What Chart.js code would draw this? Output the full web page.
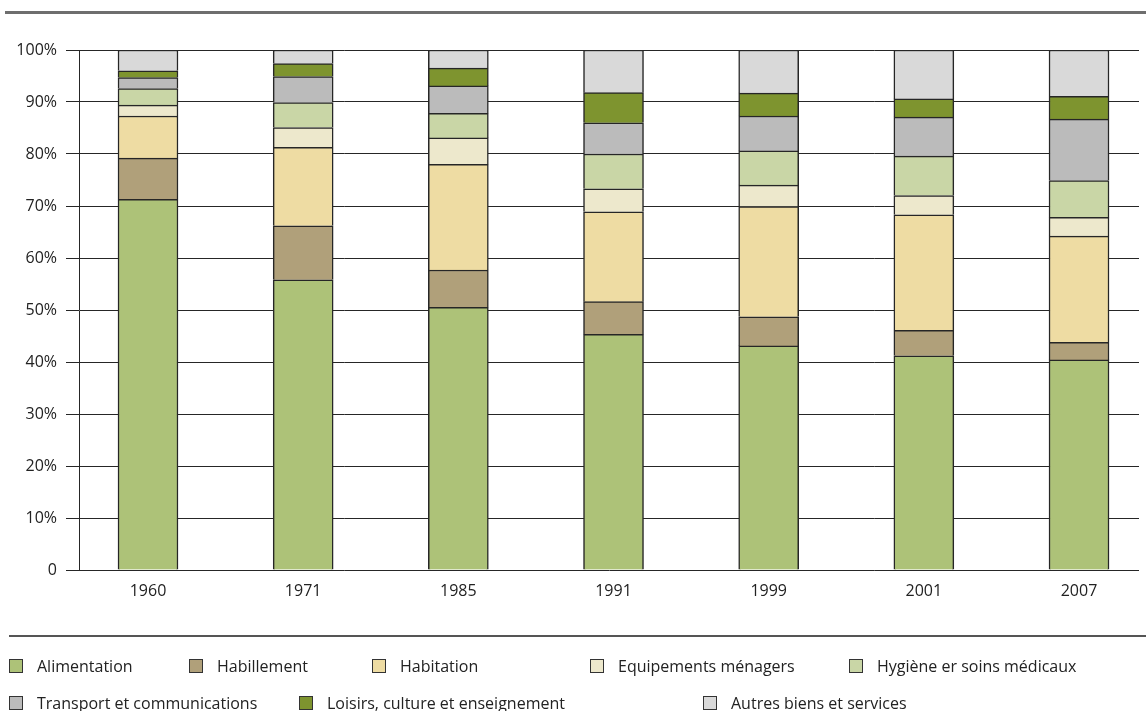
<!DOCTYPE html>
<html>
<head>
<meta charset="utf-8">
<script src="https://cdn.jsdelivr.net/npm/chart.js@4.4.1/dist/chart.umd.min.js"></script>
<style>
  body{margin:0;background:#fff;font-family:"Open Sans",sans-serif;color:#222;}
  #wrap{position:relative;width:1146px;height:711px;overflow:hidden;}
  #chart{position:absolute;left:0;top:0;}
  .rule{position:absolute;}
  .item{position:absolute;display:flex;align-items:center;font-size:16px;white-space:nowrap;}
  .item span.box{display:inline-block;width:12px;height:12px;border:1px solid #333;margin-right:14px;}
</style>
</head>
<body>
<div id="wrap">
  <div class="rule" style="left:5px;top:11px;width:1141px;height:3px;background:#6e6e6e;"></div>
  <canvas id="chart" width="1146" height="711"></canvas>
  <div class="rule" style="left:9px;top:635px;width:1137px;height:2px;background:#555;"></div>
  <div id="legend"></div>
</div>
<script>
const years = ["1960","1971","1985","1991","1999","2001","2007"];

const seriesNames = [
  "Alimentation",
  "Habillement",
  "Habitation",
  "Equipements ménagers",
  "Hygiène er soins médicaux",
  "Transport et communications",
  "Loisirs, culture et enseignement",
  "Autres biens et services"
];

const alimentation = [71.3, 55.8, 50.5, 45.3, 43.1, 41.2, 40.4];
const habillement  = [7.9, 10.4, 7.2, 6.3, 5.6, 4.9, 3.4];
const habitation   = [8.1, 15.1, 20.3, 17.3, 21.2, 22.2, 20.4];
const equipements  = [2.1, 3.8, 5.1, 4.4, 4.1, 3.7, 3.6];
const hygiene      = [3.2, 4.8, 4.7, 6.7, 6.6, 7.6, 7.1];
const transport    = [2.1, 5.0, 5.3, 6.0, 6.7, 7.5, 11.8];
const loisirs      = [1.3, 2.5, 3.4, 5.8, 4.4, 3.5, 4.4];
const autres       = [4.0, 2.6, 3.5, 8.2, 8.3, 9.4, 8.9];

const yTicks = [0,10,20,30,40,50,60,70,80,90,100];

const seriesValues = [alimentation, habillement, habitation, equipements, hygiene, transport, loisirs, autres];
const colors = ["#adc278","#b0a07a","#eedca3","#ede8cc","#c9d6a6","#bbbbbb","#7e942f","#d9d9d9"];

// legend positions (left of the square), two rows
const legendPos = [
  [9,659],[189,659],[372,659],[590,659],[849,659],
  [9,696],[299,696],[703,696]
];

const datasets = seriesValues.map((vals,i) => ({
  label: seriesNames[i],
  data: vals.map((v,j) => ({x:j, y:v})),
  backgroundColor: colors[i],
  borderColor: "#262626",
  borderWidth: 1.5,
  barThickness: 60
}));

// first bar centre at x=148, step 155.17px, plot 79..1139
const step = 155.17;
const xMin = -(148-79)/step;
const xMax = (1139-148)/step;

new Chart(document.getElementById("chart"),{
  type:"bar",
  data:{datasets:datasets},
  options:{
    responsive:false,
    animation:false,
    layout:{padding:{left:0,top:50,right:7,bottom:101}},
    plugins:{legend:{display:false},tooltip:{enabled:false}},
    scales:{
      x:{
        type:"linear",
        stacked:true,
        offset:false,
        min:xMin,
        max:xMax,
        bounds:"data",
        afterBuildTicks:(scale)=>{ scale.ticks = years.map((y,i)=>({value:i})); },
        afterFit:(scale)=>{ scale.height = 40; },
        grid:{display:false,drawTicks:false,offset:false},
        border:{display:false},
        ticks:{
          padding:12,
          color:"#222",
          font:{family:"Open Sans",size:16},
          callback:(v)=>years[v]
        }
      },
      y:{
        stacked:true,
        min:0,
        max:100,
        afterBuildTicks:(scale)=>{ scale.ticks = yTicks.map(v=>({value:v})); },
        afterFit:(scale)=>{ scale.width = 79; },
        grid:{color:"#262626",lineWidth:1,tickLength:13,drawTicks:true},
        border:{display:true,color:"#262626",width:1},
        ticks:{
          padding:9,
          color:"#222",
          font:{family:"Open Sans",size:16},
          callback:(v)=> v===0 ? "0" : v+"%"
        }
      }
    }
  }
});

const legend = document.getElementById("legend");
seriesNames.forEach((name,i)=>{
  const el = document.createElement("div");
  el.className = "item";
  el.style.left = legendPos[i][0]+"px";
  el.style.top = (legendPos[i][1]-4)+"px";
  el.innerHTML = `<span class="box" style="background:${colors[i]}"></span>${name}`;
  legend.appendChild(el);
});
</script>
</body>
</html>
